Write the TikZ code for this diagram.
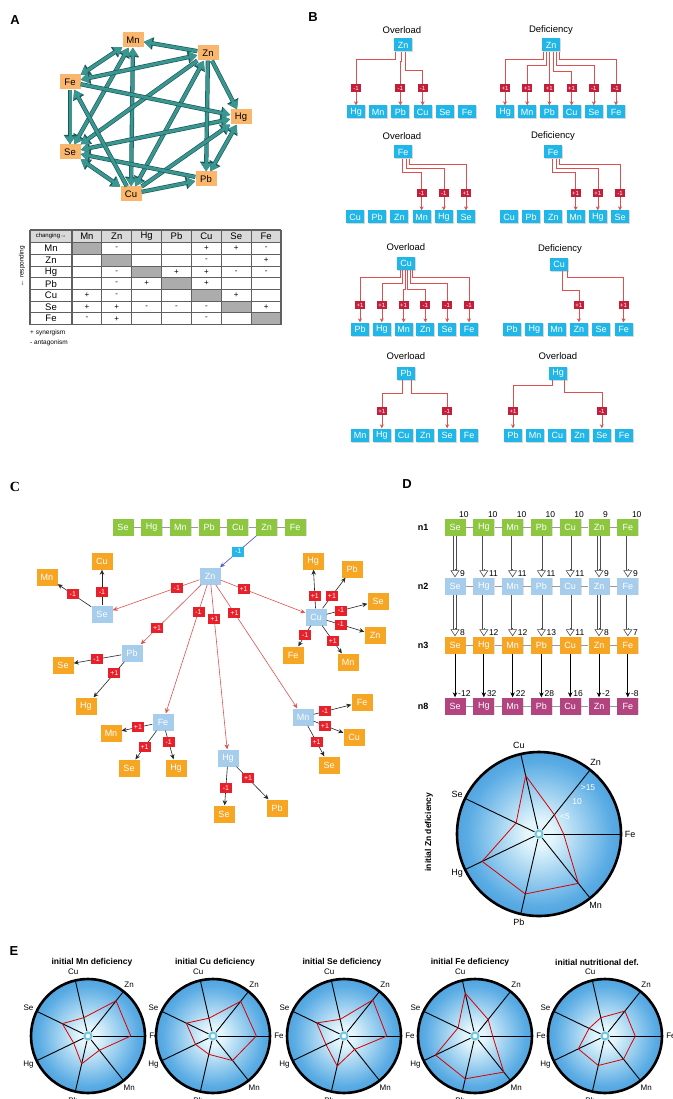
\documentclass[tikz,border=0pt]{standalone}
\usepackage{fontspec}
\setmainfont{Liberation Sans}
\newfontfamily\panelserif{Liberation Serif}
\usetikzlibrary{arrows.meta, positioning, calc, shadows}

\definecolor{tealline}{RGB}{58,150,144}
\definecolor{tealedge}{RGB}{28,88,88}
\definecolor{aorange}{RGB}{250,182,108}
\definecolor{bcyan}{RGB}{32,182,232}
\definecolor{bline}{RGB}{222,80,80}
\definecolor{blabel}{RGB}{196,30,58}
\definecolor{cgreen}{RGB}{141,198,63}
\definecolor{cblue}{RGB}{166,205,236}
\definecolor{corange}{RGB}{247,166,35}
\definecolor{clabel}{RGB}{232,32,42}
\definecolor{cline}{RGB}{226,80,80}
\definecolor{dpurple}{RGB}{178,68,128}
\definecolor{znarrow}{RGB}{85,95,200}
\definecolor{znlabel}{RGB}{38,182,234}
\definecolor{radarin}{RGB}{228,246,252}
\definecolor{radarmid}{RGB}{90,172,228}
\definecolor{radarout}{RGB}{26,96,178}
\definecolor{ringcol}{RGB}{110,200,225}
\pgfdeclareradialshading{radarshade}{\pgfpoint{0bp}{0bp}}{color(0bp)=(radarin); color(4bp)=(radarin); color(22bp)=(radarmid); color(50bp)=(radarout)}

\tikzset{
  panel/.style={font=\bfseries\fontsize{13}{13}\selectfont},
  % A
  abox/.style={fill=aorange, minimum width=21pt, minimum height=15pt, inner sep=1pt, font=\fontsize{9.5}{9.5}\selectfont},
  tone/.style={draw=tealline, line width=3pt, -{Triangle[width=10pt,length=8pt]},
    preaction={draw=tealedge, line width=4.3pt, -{Triangle[width=12pt,length=9.5pt]}}},
  tboth/.style={draw=tealline, line width=3pt, {Triangle[width=10pt,length=8pt]}-{Triangle[width=10pt,length=8pt]},
    preaction={draw=tealedge, line width=4.3pt, {Triangle[width=12pt,length=9.5pt]}-{Triangle[width=12pt,length=9.5pt]}}},
  tabline/.style={draw=gray!75!black, line width=1.1pt},
  tabtxt/.style={font=\fontsize{9.5}{9.5}\selectfont, inner sep=0pt},
  tabsign/.style={font=\fontsize{8}{8}\selectfont, inner sep=0pt},
  tabsmall/.style={font=\fontsize{6.5}{6.5}\selectfont, inner sep=0pt},
  % B
  bbox/.style={fill=bcyan, text=white, minimum width=18pt, minimum height=13pt, inner sep=0.5pt, font=\fontsize{9}{9}\selectfont,
    drop shadow={opacity=.3, shadow xshift=1pt, shadow yshift=-1pt}},
  btitle/.style={font=\fontsize{9.5}{9.5}\selectfont, inner sep=0pt},
  blink/.style={draw=bline, line width=0.6pt, -{Stealth[length=4pt,width=4pt]}},
  blbl/.style={fill=blabel, text=white, font=\fontsize{6}{6}\selectfont, inner sep=0.8pt, minimum width=10pt, minimum height=8pt},
  % C
  cbox/.style={minimum width=21pt, minimum height=17pt, inner sep=1pt, text=white, font=\fontsize{9}{9}\selectfont,
    drop shadow={opacity=.25, shadow xshift=.8pt, shadow yshift=-.8pt}},
  cgreenbox/.style={cbox, fill=cgreen},
  cbluebox/.style={cbox, fill=cblue},
  corangebox/.style={cbox, fill=corange},
  dpurplebox/.style={cbox, fill=dpurple},
  linkgray/.style={draw=gray!80, line width=0.9pt},
  cred/.style={draw=cline, line width=0.6pt, -{Stealth[length=5pt,width=4.5pt]}},
  cblack/.style={draw=black!85, line width=0.6pt, -{Stealth[length=5pt,width=4.5pt]}},
  znarr/.style={draw=znarrow, line width=0.7pt, -{Stealth[length=5pt,width=4.5pt]}},
  clbl/.style={fill=clabel, text=white, font=\fontsize{7}{7}\selectfont, inner sep=1pt, minimum width=12pt, minimum height=10pt},
  znlbl/.style={clbl, fill=znlabel},
  % D
  dlbl/.style={font=\bfseries\fontsize{9}{9}\selectfont},
  dval/.style={font=\fontsize{8.5}{8.5}\selectfont, inner sep=0pt, anchor=south west},
  hshaft/.style={draw=gray!60!black, double=white, double distance=2pt, line width=0.6pt},
  hhead/.style={draw=gray!60!black, line width=0.6pt, -{Triangle[width=9pt,length=7pt,fill=white]}},
  dblack/.style={draw=black, line width=0.7pt, -{Stealth[length=5pt,width=4.5pt]}},
  rscale/.style={text=white, font=\fontsize{8.5}{8.5}\selectfont, inner sep=0pt},
  % radar
  spoke/.style={draw=black, line width=0.9pt},
  rim/.style={draw=black, line width=2.6pt},
  hubring/.style={draw=ringcol, line width=2pt, fill=white},
  radarline/.style={draw=red!85!black, line width=0.8pt, line join=round},
  radarlbl/.style={font=\fontsize{9}{9}\selectfont, inner sep=0pt},
  etitle/.style={font=\bfseries\fontsize{8.5}{8.5}\selectfont, inner sep=0pt},
}

% one branch of a panel B tree: source, x offset, drop, target, label
\newcommand{\bbranch}[5]{%
  \draw[blink] ([xshift=#2pt]#1.south) -- ++(0,#3) -| (#4.north);
  \node[blbl] (l#4) at ([yshift=17pt]#4.north) {#5};}

% radar chart: name, x, y, radius, values Fe,Zn,Cu,Se,Hg,Pb,Mn
\newcommand{\radarplot}[5]{%
  \begin{scope}[shift={(#2,#3)}, yscale=-1]
    \shade[shading=radarshade] (0,0) circle (#4);
    \foreach \k in {0,...,6}
      \draw[spoke] ({\k*360/7}:5) -- ({\k*360/7}:#4);
    \foreach \f [count=\i] in {#5}
      \coordinate (#1p\i) at ({(\i-1)*360/7}:{\f*#4});
    \draw[radarline] (#1p1) -- (#1p2) -- (#1p3) -- (#1p4) -- (#1p5) -- (#1p6) -- (#1p7) -- cycle;
    \draw[rim] (0,0) circle (#4);
    \draw[hubring] (0,0) circle (3.5);
    \foreach \n [count=\i] in {Fe,Zn,Cu,Se,Hg,Pb,Mn}
      \node[radarlbl] (#1\n) at ({(\i-1)*360/7}:{#4+9}) {\n};
  \end{scope}}

\begin{document}
\begin{tikzpicture}[x=1pt, y=-1pt]
\path[use as bounding box, fill=white] (0,0) rectangle (672,1099);

% ---------- A: interaction network ----------
\node[panel] (pA) at (15,20) {A};
\node[abox] (amn) at (133,40) {Mn};
\node[abox] (azn) at (208,53) {Zn};
\node[abox] (afe) at (70,82) {Fe};
\node[abox] (ahg) at (241,117) {Hg};
\node[abox] (ase) at (70,152) {Se};
\node[abox] (apb) at (206,179) {Pb};
\node[abox] (acu) at (131,194) {Cu};

\foreach \a/\b in {mn/cu, mn/se, mn/fe, zn/cu, zn/fe, hg/pb, hg/se, cu/se}
  \draw[tboth] (a\a) -- (a\b);
\foreach \a/\b in {zn/mn, zn/hg, zn/pb, zn/se, cu/hg, fe/hg, cu/pb, pb/se, cu/fe, fe/se}
  \draw[tone] (a\a) -- (a\b);

% table
\fill[gray!30] (30,230) rectangle (281,242.7);
\foreach \i in {1,...,7}
  \fill[gray!65] ({72+(\i-1)*29.86},{242.7+(\i-1)*11.7}) rectangle ++(29.86,11.7);
\draw[tabline] (30,230) -- (30,324.6);
\foreach \i in {0,...,7}
  \draw[tabline] ({72+\i*29.86},230) -- ++(0,94.6);
\draw[tabline] (30,230) -- (281,230);
\foreach \j in {0,...,7}
  \draw[tabline] (30,{242.7+\j*11.7}) -- (281,{242.7+\j*11.7});
\node[tabsmall, font=\fontsize{6}{6}\selectfont] (tchg) at (51,236.4) {changing→};
\foreach \n [count=\i] in {Mn,Zn,Hg,Pb,Cu,Se,Fe} {
  \node[tabtxt] (tc\n) at ({72+(\i-0.5)*29.86},236.6) {\n};
  \node[tabtxt] (tr\n) at (51,{242.7+(\i-0.5)*11.7}) {\n};
}
\foreach \ro/\co/\s in {1/2/-, 1/5/+, 1/6/+, 1/7/-, 2/5/-, 2/7/+,
    3/2/-, 3/4/+, 3/5/+, 3/6/-, 3/7/-, 4/2/-, 4/3/+, 4/5/+,
    5/1/+, 5/2/-, 5/6/+, 6/1/+, 6/2/+, 6/3/-, 6/4/-, 6/5/-, 6/7/+,
    7/1/-, 7/2/+, 7/5/-}
  \node[tabsign] (ts\ro\co) at ({72+(\co-0.5)*29.86},{242.7+(\ro-0.5)*11.7}) {\s};
\node[tabsmall, rotate=90] (tresp) at (22,266) {← responding};
\node[tabsmall, anchor=west] (tsyn) at (30,333) {+ synergism};
\node[tabsmall, anchor=west] (tant) at (30,343) {- antagonism};

% ---------- B: overload / deficiency trees ----------
\node[panel] (pB) at (313,17) {B};

\node[btitle] (t1) at (402,30) {Overload};
\node[bbox] (b1zn) at (403,45) {Zn};
\foreach \n [count=\i] in {Hg,Mn,Pb,Cu,Se,Fe}
  \node[bbox] (b1\n) at ({356+(\i-1)*22.2},112) {\n};
\bbranch{b1zn}{-8}{7.5}{b1Hg}{-1}
\bbranch{b1zn}{-2}{10}{b1Pb}{-1}
\bbranch{b1zn}{2}{18.5}{b1Cu}{-1}

\node[btitle] (t2) at (551,30) {Deficiency};
\node[bbox] (b2zn) at (551,45) {Zn};
\foreach \n [count=\i] in {Hg,Mn,Pb,Cu,Se,Fe}
  \node[bbox] (b2\n) at ({505+(\i-1)*22.2},112) {\n};
\bbranch{b2zn}{-8}{7.5}{b2Hg}{+1}
\bbranch{b2zn}{-5}{13.5}{b2Mn}{+1}
\bbranch{b2zn}{-2}{19.5}{b2Pb}{+1}
\bbranch{b2zn}{2}{19.5}{b2Cu}{+1}
\bbranch{b2zn}{5}{13.5}{b2Se}{-1}
\bbranch{b2zn}{8}{7.5}{b2Fe}{-1}

\node[btitle] (t3) at (402,136) {Overload};
\node[bbox] (b3fe) at (403,152) {Fe};
\foreach \n [count=\i] in {Cu,Pb,Zn,Mn,Hg,Se}
  \node[bbox] (b3\n) at ({355+(\i-1)*22.2},217) {\n};
\bbranch{b3fe}{-1}{13.5}{b3Mn}{-1}
\bbranch{b3fe}{3}{9.5}{b3Hg}{-1}
\bbranch{b3fe}{6}{5.5}{b3Se}{+1}

\node[btitle] (t4) at (553,136) {Deficiency};
\node[bbox] (b4fe) at (553,152) {Fe};
\foreach \n [count=\i] in {Cu,Pb,Zn,Mn,Hg,Se}
  \node[bbox] (b4\n) at ({509+(\i-1)*22.2},217) {\n};
\bbranch{b4fe}{-1}{13.5}{b4Mn}{+1}
\bbranch{b4fe}{3}{9.5}{b4Hg}{+1}
\bbranch{b4fe}{6}{5.5}{b4Se}{-1}

\node[btitle] (t5) at (406,247) {Overload};
\node[bbox] (b5cu) at (406,263) {Cu};
\foreach \n [count=\i] in {Pb,Hg,Mn,Zn,Se,Fe}
  \node[bbox] (b5\n) at ({360+(\i-1)*21.8},329) {\n};
\bbranch{b5cu}{-6}{7.5}{b5Pb}{+1}
\bbranch{b5cu}{-3.5}{13.5}{b5Hg}{+1}
\bbranch{b5cu}{-1}{19.5}{b5Mn}{+1}
\bbranch{b5cu}{1.5}{19.5}{b5Zn}{-1}
\bbranch{b5cu}{4}{13.5}{b5Se}{-1}
\bbranch{b5cu}{6.5}{7.5}{b5Fe}{-1}

\node[btitle] (t6) at (560,249) {Deficiency};
\node[bbox] (b6cu) at (559,264) {Cu};
\foreach \n [count=\i] in {Pb,Hg,Mn,Zn,Se,Fe}
  \node[bbox] (b6\n) at ({512+(\i-1)*22.3},329) {\n};
\bbranch{b6cu}{3}{19.5}{b6Zn}{+1}
\bbranch{b6cu}{8}{6.5}{b6Fe}{+1}

\node[btitle] (t7) at (406,356) {Overload};
\node[bbox] (b7pb) at (406,373) {Pb};
\foreach \n [count=\i] in {Mn,Hg,Cu,Zn,Se,Fe}
  \node[bbox] (b7\n) at ({360+(\i-1)*21.8},435) {\n};
\bbranch{b7pb}{-4}{13.5}{b7Hg}{+1}
\bbranch{b7pb}{5}{13.5}{b7Se}{-1}

\node[btitle] (t8) at (558,356) {Overload};
\node[bbox] (b8hg) at (558,373) {Hg};
\foreach \n [count=\i] in {Pb,Mn,Cu,Zn,Se,Fe}
  \node[bbox] (b8\n) at ({513+(\i-1)*22.2},435) {\n};
\bbranch{b8hg}{-6}{5.5}{b8Pb}{+1}
\bbranch{b8hg}{6}{12.5}{b8Se}{-1}

% ---------- C: cascade after Zn deficiency ----------
\node[panel, font=\panelserif\bfseries\fontsize{14}{14}\selectfont] (pC) at (15,487) {C};
\foreach \n [count=\i] in {Se,Hg,Mn,Pb,Cu,Zn,Fe}
  \node[cgreenbox] (cg\n) at ({123+(\i-1)*28.7},527) {\n};
\foreach \a/\b in {Se/Hg,Hg/Mn,Mn/Pb,Pb/Cu,Cu/Zn,Zn/Fe}
  \draw[linkgray] (cg\a) -- (cg\b);

\node[cbluebox] (czn) at (210,576) {Zn};
\node[cbluebox] (cse) at (102,614) {Se};
\node[cbluebox] (ccu) at (316,617) {Cu};
\node[cbluebox] (cpb) at (132,653) {Pb};
\node[cbluebox] (cfe) at (163,722) {Fe};
\node[cbluebox] (chg) at (228,758) {Hg};
\node[cbluebox] (cmn) at (303,717) {Mn};

\draw[znarr] (cgZn) -- node[znlbl, pos=.5] (lczn) {-1} (czn);
\draw[cred] (czn) -- node[clbl, pos=.26] (lcse) {-1} (cse);
\draw[cred] (czn) -- node[clbl, pos=.27] (lccu) {+1} (ccu);
\draw[cred] (czn) -- node[clbl, pos=.73] (lcpb) {+1} (cpb);
\draw[cred] (czn) -- node[clbl, pos=.21] (lcfe) {-1} (cfe);
\draw[cred] (czn) -- node[clbl, pos=.21] (lchg) {+1} (chg);
\draw[cred] (czn) -- node[clbl, pos=.23] (lcmn) {+1} (cmn);

\node[corangebox] (osemn) at (47,577) {Mn};
\node[corangebox] (osecu) at (102,561) {Cu};
\node[corangebox] (ocuhg) at (313,561) {Hg};
\node[corangebox] (ocupb) at (352,569) {Pb};
\node[corangebox] (ocuse) at (378,601) {Se};
\node[corangebox] (ocuzn) at (375,635) {Zn};
\node[corangebox] (ocufe) at (293,655) {Fe};
\node[corangebox] (ocumn) at (348,662) {Mn};
\node[corangebox] (opbse) at (63,665) {Se};
\node[corangebox] (opbhg) at (86,706) {Hg};
\node[corangebox] (ofemn) at (111,733) {Mn};
\node[corangebox] (ofese) at (129,768) {Se};
\node[corangebox] (ofehg) at (176,768) {Hg};
\node[corangebox] (ohgse) at (224,814) {Se};
\node[corangebox] (ohgpb) at (277,808) {Pb};
\node[corangebox] (omnfe) at (362,702) {Fe};
\node[corangebox] (omncu) at (354,737) {Cu};
\node[corangebox] (omnse) at (329,765) {Se};

\foreach \s/\t/\l/\p in {cse/osemn/-1/.55, cse/osecu/-1/.38,
    ccu/ocuhg/+1/.32, ccu/ocupb/+1/.41, ccu/ocuse/-1/.35, ccu/ocuzn/-1/.37,
    ccu/ocufe/-1/.45, ccu/ocumn/+1/.54, cpb/opbse/-1/.52, cpb/opbhg/+1/.33,
    cfe/ofemn/+1/.47, cfe/ofese/+1/.57, cfe/ofehg/-1/.39,
    chg/ohgse/-1/.55, chg/ohgpb/+1/.36,
    cmn/omnfe/-1/.3, cmn/omncu/+1/.38, cmn/omnse/+1/.53}
  \draw[cblack] (\s) -- node[clbl, pos=\p] (l\t) {\l} (\t);

% ---------- D: iteration steps ----------
\node[panel] (pD) at (407,484) {D};
\node[dlbl] (rn1) at (423,527) {n1};
\node[dlbl] (rn2) at (423,586) {n2};
\node[dlbl] (rn3) at (423,645) {n3};
\node[dlbl] (rn8) at (423,706) {n8};
\foreach \n/\va/\vb/\vc/\vd [count=\i] in {Se/10/9/8/-12, Hg/10/11/12/32, Mn/10/11/12/22,
    Pb/10/11/13/28, Cu/10/11/11/16, Zn/9/9/8/-2, Fe/10/9/7/-8} {
  \node[cgreenbox] (d1\n) at ({455+(\i-1)*28.8},527) {\n};
  \node[cbluebox] (d2\n) at ({455+(\i-1)*28.8},586) {\n};
  \node[corangebox] (d3\n) at ({455+(\i-1)*28.8},645) {\n};
  \node[dpurplebox] (d8\n) at ({455+(\i-1)*28.8},706) {\n};
  \node[dval] (v1\n) at ([xshift=4pt,yshift=1pt]d1\n.north) {\va};
  \node[dval] (v2\n) at ([xshift=5pt,yshift=1pt]d2\n.north) {\vb};
  \node[dval] (v3\n) at ([xshift=5pt,yshift=1pt]d3\n.north) {\vc};
  \node[dval] (v8\n) at ([xshift=3pt,yshift=1pt]d8\n.north) {\vd};
  \draw[hshaft] (d1\n.south) -- ([yshift=6pt]d2\n.north);
  \draw[hhead] ([yshift=8pt]d2\n.north) -- (d2\n.north);
  \draw[hshaft] (d2\n.south) -- ([yshift=6pt]d3\n.north);
  \draw[hhead] ([yshift=8pt]d3\n.north) -- (d3\n.north);
  \draw[dblack] (d3\n.south) -- (d8\n.north);
}
\foreach \ro in {1,2,3,8} {
  \foreach \a/\b in {Se/Hg,Hg/Mn,Mn/Pb,Pb/Cu,Cu/Zn,Zn/Fe}
    \draw[linkgray] (d\ro\a) -- (d\ro\b);
}

\radarplot{rd}{539}{834}{82}{.3,.3,.73,.31,.77,.75,.77}
\node[rscale] (s15) at (588,788) {>15};
\node[rscale] (s10) at (577,802) {10};
\node[rscale] (s5) at (565,817) {<5};
\node[etitle, rotate=90] (tzn) at (429,832) {initial Zn deficiency};

% ---------- E: other initial states ----------
\node[panel] (pE) at (14,951) {E};
\node[etitle] (te1) at (92,962) {initial Mn deficiency};
\node[etitle] (te2) at (215,962) {initial Cu deficiency};
\node[etitle] (te3) at (342,962) {initial Se deficiency};
\node[etitle] (te4) at (470,962) {initial Fe deficiency};
\node[etitle] (te5) at (597,962) {initial nutritional def.};
\begin{scope}[radarlbl/.style={font=\fontsize{8}{8}\selectfont, inner sep=0pt}]
  \radarplot{re1}{88}{1036}{57}{.75,.79,.33,.5,.28,.5,.32}
  \radarplot{re2}{213}{1036}{57}{.76,.78,.32,.52,.34,.33,.55}
  \radarplot{re3}{344}{1036}{57}{.75,.81,.3,.53,.35,.54,.3}
  \radarplot{re4}{475}{1036}{57}{.31,.37,.77,.33,.77,.77,.81}
  \radarplot{re5}{605}{1036}{57}{.53,.56,.33,.31,.52,.53,.52}
\end{scope}
\end{tikzpicture}
\end{document}
